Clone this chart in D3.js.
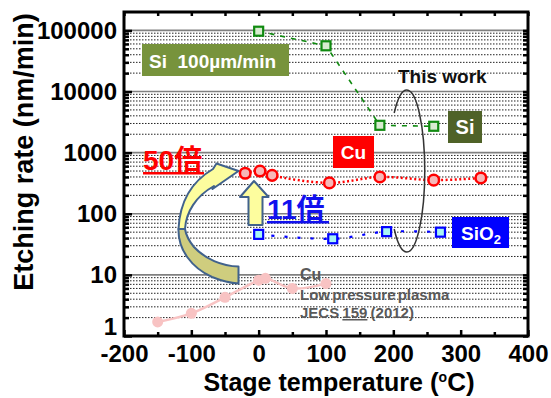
<!DOCTYPE html>
<html>
<head>
<meta charset="utf-8">
<script src="https://cdn.jsdelivr.net/npm/d3@7"></script>
<style>
  body { margin: 0; background: #fff; }
  svg { display: block; font-family: "Liberation Sans", Arial, sans-serif; font-weight: bold; }
</style>
</head>
<body>
<div id="chart"></div>
<script>
// axis ticks
const tempTicks = [-200, -100, 0, 100, 200, 300, 400];
const tempMinor = [-150, -50, 50, 150, 250, 350];
const rateTicks = [1, 10, 100, 1000, 10000, 100000];

// this work: Si, Cu, SiO2
const siTemp = [0, 100, 180, 260];
const siRate = [97000, 56000, 2800, 2700];
const cuTemp = [-20, 2, 20, 105, 180, 260, 330];
const cuRate = [460, 500, 425, 320, 400, 355, 385];
const sio2Temp = [0, 110, 190, 270];
const sio2Rate = [46, 39, 51, 50];
// low pressure plasma Cu (JECS 159, 2012)
const lpTemp = [-150, -100, -50, 0, 10, 50, 100];
const lpRate = [1.7, 2.35, 4.3, 8.2, 8.8, 6.0, 7.2];

const width = 551, height = 398;
const margin = { top: 12, right: 23, bottom: 62, left: 124 };

const zip = (xs, ys) => xs.map((t, i) => ({ t, v: ys[i] }));
const plain = d => String(d); // keep ascii hyphen for negatives

const svg = d3.select("#chart").append("svg")
  .attr("width", width)
  .attr("height", height);

const x = d3.scaleLinear().domain([-200, 400]).range([margin.left, width - margin.right]);
const y = d3.scaleLog().domain([1, 200000]).range([height - margin.bottom, margin.top]);

const x0 = x.range()[0], x1 = x.range()[1];
const y0 = y.range()[0], y1 = y.range()[1];

// minor values for log grid
const rateMinor = [];
for (let k = 0; k < 5; k++) {
  for (let m = 2; m <= 9; m++) rateMinor.push(m * Math.pow(10, k));
}

// grid
svg.append("g").selectAll("line")
  .data(rateMinor)
  .join("line")
  .attr("x1", x0).attr("x2", x1)
  .attr("y1", d => y(d)).attr("y2", d => y(d))
  .attr("stroke", "#222")
  .attr("stroke-width", 1)
  .attr("stroke-dasharray", "1.5,1.5");

svg.append("g").selectAll("line")
  .data(rateTicks.slice(1))
  .join("line")
  .attr("x1", x0).attr("x2", x1)
  .attr("y1", d => y(d)).attr("y2", d => y(d))
  .attr("stroke", "#808080")
  .attr("stroke-width", 1.6);

// axes (ticks inside the frame)
const styleTicks = g => {
  g.select(".domain").remove();
  g.selectAll(".tick line").attr("stroke-width", 2.5);
  g.selectAll(".tick text")
    .attr("font-size", 24)
    .attr("font-family", "'Liberation Sans', Arial, sans-serif")
    .attr("font-weight", "bold")
    .attr("fill", "#000");
};

svg.append("g")
  .attr("transform", `translate(0,${y0})`)
  .call(d3.axisBottom(x).tickValues(tempTicks).tickSize(-6).tickPadding(9).tickFormat(plain))
  .call(styleTicks);
svg.append("g")
  .attr("transform", `translate(0,${y0})`)
  .call(d3.axisBottom(x).tickValues(tempMinor).tickSize(-4).tickFormat(""))
  .call(styleTicks);
svg.append("g")
  .attr("transform", `translate(0,${y1})`)
  .call(d3.axisTop(x).tickValues(tempTicks.concat(tempMinor)).tickSize(-4).tickFormat(""))
  .call(styleTicks);

svg.append("g")
  .attr("transform", `translate(${x0},0)`)
  .call(d3.axisLeft(y).tickValues(rateTicks).tickSize(-8).tickPadding(7).tickFormat(plain))
  .call(styleTicks)
  .call(g => g.selectAll(".tick text").filter(d => d === 1).attr("dy", "-0.08em"));
svg.append("g")
  .attr("transform", `translate(${x0},0)`)
  .call(d3.axisLeft(y).tickValues(rateMinor).tickSize(-5).tickFormat(""))
  .call(styleTicks);
svg.append("g")
  .attr("transform", `translate(${x1},0)`)
  .call(d3.axisRight(y).tickValues(rateTicks.concat(rateMinor)).tickSize(-5).tickFormat(""))
  .call(styleTicks);

// axis titles
svg.append("text")
  .attr("x", 339).attr("y", 391)
  .attr("text-anchor", "middle")
  .attr("font-size", 25)
  .call(t => {
    t.append("tspan").text("Stage temperature ");
    t.append("tspan").attr("font-size", 26).text("(");
    t.append("tspan").attr("font-size", 14).attr("dy", -9).text("o");
    t.append("tspan").attr("font-size", 26).attr("dy", 9).text("C");
    t.append("tspan").attr("font-size", 26).text(")");
  });

svg.append("text")
  .attr("transform", "translate(33,152) rotate(-90)")
  .attr("text-anchor", "middle")
  .attr("font-size", 27)
  .text("Etching rate (nm/min)");

// series lines
const smooth = d3.line()
  .x(d => x(d.t))
  .y(d => y(d.v))
  .curve(d3.curveCatmullRom.alpha(0.5));
const straight = d3.line()
  .x(d => x(d.t))
  .y(d => y(d.v));

svg.append("path")
  .datum(zip(lpTemp, lpRate))
  .attr("d", smooth)
  .attr("fill", "none")
  .attr("stroke", "#f8c3c3")
  .attr("stroke-width", 2.5);

svg.append("g").selectAll("circle")
  .data(zip(lpTemp, lpRate))
  .join("circle")
  .attr("cx", d => x(d.t)).attr("cy", d => y(d.v))
  .attr("r", 5.5)
  .attr("fill", "#f8c3c3");

svg.append("path")
  .datum(zip(siTemp, siRate))
  .attr("d", straight)
  .attr("fill", "none")
  .attr("stroke", "#108a10")
  .attr("stroke-width", 1.6)
  .attr("stroke-dasharray", "5,6");

svg.append("path")
  .datum(zip(cuTemp, cuRate))
  .attr("d", smooth)
  .attr("fill", "none")
  .attr("stroke", "#ff0000")
  .attr("stroke-width", 2.5)
  .attr("stroke-dasharray", "2,2.5");

svg.append("path")
  .datum(zip(sio2Temp, sio2Rate))
  .attr("d", smooth)
  .attr("fill", "none")
  .attr("stroke", "#0000ff")
  .attr("stroke-width", 2.2)
  .attr("stroke-dasharray", "3,10");

// markers
const sq = 9;
svg.append("g").selectAll("rect")
  .data(zip(siTemp, siRate))
  .join("rect")
  .attr("x", d => x(d.t) - sq / 2).attr("y", d => y(d.v) - sq / 2)
  .attr("width", sq).attr("height", sq)
  .attr("fill", "#d8ecd0")
  .attr("stroke", "#108a10")
  .attr("stroke-width", 2.2);

svg.append("g").selectAll("rect")
  .data(zip(sio2Temp, sio2Rate))
  .join("rect")
  .attr("x", d => x(d.t) - sq / 2).attr("y", d => y(d.v) - sq / 2)
  .attr("width", sq).attr("height", sq)
  .attr("fill", "#a8f4f4")
  .attr("stroke", "#0000ff")
  .attr("stroke-width", 2.2);

svg.append("g").selectAll("circle")
  .data(zip(cuTemp, cuRate))
  .join("circle")
  .attr("cx", d => x(d.t)).attr("cy", d => y(d.v))
  .attr("r", 5.3)
  .attr("fill", "#f6b8b8")
  .attr("stroke", "#ff0000")
  .attr("stroke-width", 2.5);

// "This work" ellipse, open on the left side
const ec = [x(220), y(500)];
svg.append("path")
  .attr("d", `M${ec[0] - 12.6},${ec[1] - 58} A18,81 0 1 1 ${ec[0] - 12.6},${ec[1] + 58}`)
  .attr("fill", "none")
  .attr("stroke", "#333")
  .attr("stroke-width", 1.5);

// curved arrow (two faces) and up arrow
const arrowStroke = "#41628c";
svg.append("path")
  .attr("d", "M178.5,229 C178,250 192,268 212,277 C222,281 230,283 238.5,283.5 L238.5,266.5 C222,266 205,259 194,247 C189,241 186,235 185,229 Z")
  .attr("fill", "#cfcd7e")
  .attr("stroke", arrowStroke)
  .attr("stroke-width", 2)
  .attr("stroke-linejoin", "round");
svg.append("path")
  .attr("d", "M238.5,171 L216.5,163.5 L213,169 C196,179 180,197 178.5,229 L185,229 C186,212 196,196 214,186 L212.5,189 Z")
  .attr("fill", "#fdfd9e")
  .attr("stroke", arrowStroke)
  .attr("stroke-width", 2)
  .attr("stroke-linejoin", "round");

svg.append("polygon")
  .attr("points", "254,181 268.5,197 262.5,197 262.5,225 248.5,225 248.5,197 240,197")
  .attr("fill", "#fdfd9e")
  .attr("stroke", arrowStroke)
  .attr("stroke-width", 2)
  .attr("stroke-linejoin", "round");

// label boxes
const box = (bx, by, bw, bh, fill) =>
  svg.append("rect").attr("x", bx).attr("y", by).attr("width", bw).attr("height", bh).attr("fill", fill);

box(142, 44, 147, 32, "#77933c");
svg.append("text")
  .attr("x", 149).attr("y", 68)
  .attr("font-size", 19).attr("fill", "#fff")
  .style("white-space", "pre")
  .text("Si  100µm/min");

box(448, 111, 34, 32, "#4f6228");
svg.append("text")
  .attr("x", 465).attr("y", 133.5)
  .attr("text-anchor", "middle")
  .attr("font-size", 20).attr("fill", "#fff")
  .text("Si");

box(333, 136, 41, 32, "#ff0000");
svg.append("text")
  .attr("x", 353.5).attr("y", 158.5)
  .attr("text-anchor", "middle")
  .attr("font-size", 19).attr("fill", "#fff")
  .text("Cu");

box(452, 217, 57, 31, "#0000ff");
svg.append("text")
  .attr("x", 461).attr("y", 240)
  .attr("font-size", 19).attr("fill", "#fff")
  .call(t => {
    t.append("tspan").text("SiO");
    t.append("tspan").attr("font-size", 13).attr("dy", 3.5).text("2");
  });

svg.append("text")
  .attr("x", 398).attr("y", 82.5)
  .attr("font-size", 19).attr("fill", "#111")
  .text("This work");

// ratio labels
const ratioLabel = (lx, ly, digits, color, w) => {
  svg.append("text")
    .attr("x", lx).attr("y", ly)
    .attr("font-size", 28).attr("fill", color)
    .call(t => {
      t.append("tspan").text(digits);
      t.append("tspan").attr("font-family", "'Noto Sans CJK JP', 'Noto Sans CJK SC', sans-serif").text("倍");
    });
  svg.append("rect").attr("x", lx).attr("y", ly + 2).attr("width", w).attr("height", 2.5).attr("fill", color);
};
ratioLabel(143, 170, "50", "#ff0000", 61);
ratioLabel(267, 219, "11", "#1111ee", 62);

// reference annotation
const grey = "#595959";
svg.append("text")
  .attr("x", 300).attr("y", 280)
  .attr("font-size", 16).attr("fill", grey)
  .text("Cu");
svg.append("text")
  .attr("x", 300).attr("y", 300)
  .attr("font-size", 15).attr("fill", grey)
  .attr("word-spacing", -2)
  .text("Low pressure plasma");
svg.append("text")
  .attr("x", 300).attr("y", 318)
  .attr("font-size", 15).attr("fill", grey)
  .attr("word-spacing", -1)
  .call(t => {
    t.append("tspan").text("JECS ");
    t.append("tspan").attr("text-decoration", "underline").text("159");
    t.append("tspan").text(" (2012)");
  });

// frame
svg.append("rect")
  .attr("x", x0).attr("y", y1)
  .attr("width", x1 - x0).attr("height", y0 - y1)
  .attr("fill", "none")
  .attr("stroke", "#000")
  .attr("stroke-width", 3);
</script>
</body>
</html>
